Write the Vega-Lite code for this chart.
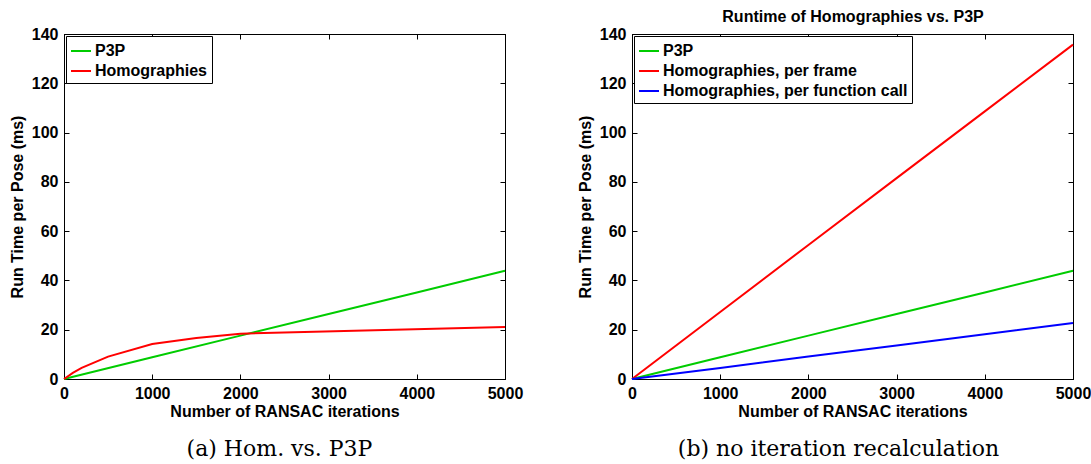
{
  "$schema": "https://vega.github.io/schema/vega-lite/v6.json",
  "padding": {"left": 8, "top": 8, "right": 5, "bottom": 5},
  "background": "white",
  "bounds": "flush",
  "spacing": 127,
  "resolve": {"scale": {"color": "independent"}},
  "config": {
    "font": "Liberation Sans",
    "view": {"stroke": "black", "strokeWidth": 1},
    "axis": {
      "grid": false,
      "domainColor": "black",
      "tickColor": "black",
      "tickSize": -5,
      "labelFont": "Liberation Sans",
      "labelFontWeight": "bold",
      "labelFontSize": 16,
      "labelColor": "black",
      "labelPadding": 11,
      "labelFlush": false,
      "labelOverlap": false,
      "format": "d",
      "titleFont": "Liberation Sans",
      "titleFontWeight": "bold",
      "titleFontSize": 16,
      "titleColor": "black"
    },
    "legend": {
      "orient": "top-left",
      "offset": 2,
      "strokeColor": "black",
      "fillColor": "white",
      "padding": 4,
      "cornerRadius": 0,
      "symbolType": "stroke",
      "symbolSize": 400,
      "symbolStrokeWidth": 2,
      "labelFont": "Liberation Sans",
      "labelFontWeight": "bold",
      "labelFontSize": 16,
      "labelColor": "black",
      "labelOffset": 3,
      "labelLimit": 400,
      "rowPadding": 1
    },
    "title": {
      "font": "DejaVu Serif",
      "fontSize": 22,
      "fontWeight": "normal",
      "color": "black",
      "orient": "bottom",
      "anchor": "middle",
      "offset": 20
    },
    "line": {"strokeWidth": 2}
  },
  "datasets": {
    "left": [
      {"iterations": 0, "time": 0, "method": "P3P"},
      {"iterations": 1000, "time": 8.8, "method": "P3P"},
      {"iterations": 2000, "time": 17.6, "method": "P3P"},
      {"iterations": 3000, "time": 26.4, "method": "P3P"},
      {"iterations": 4000, "time": 35.1, "method": "P3P"},
      {"iterations": 5000, "time": 43.9, "method": "P3P"},
      {"iterations": 0, "time": 0, "method": "Homographies"},
      {"iterations": 100, "time": 2.5, "method": "Homographies"},
      {"iterations": 200, "time": 4.5, "method": "Homographies"},
      {"iterations": 500, "time": 9.1, "method": "Homographies"},
      {"iterations": 1000, "time": 14.2, "method": "Homographies"},
      {"iterations": 1500, "time": 16.6, "method": "Homographies"},
      {"iterations": 2000, "time": 18.4, "method": "Homographies"},
      {"iterations": 5000, "time": 21.1, "method": "Homographies"}
    ],
    "right": [
      {"iterations": 0, "time": 0, "method": "P3P"},
      {"iterations": 1000, "time": 8.8, "method": "P3P"},
      {"iterations": 2000, "time": 17.6, "method": "P3P"},
      {"iterations": 3000, "time": 26.4, "method": "P3P"},
      {"iterations": 4000, "time": 35.1, "method": "P3P"},
      {"iterations": 5000, "time": 43.9, "method": "P3P"},
      {"iterations": 0, "time": 0, "method": "Homographies, per frame"},
      {"iterations": 1000, "time": 27.2, "method": "Homographies, per frame"},
      {"iterations": 2000, "time": 54.4, "method": "Homographies, per frame"},
      {"iterations": 3000, "time": 81.5, "method": "Homographies, per frame"},
      {"iterations": 4000, "time": 108.6, "method": "Homographies, per frame"},
      {"iterations": 5000, "time": 135.7, "method": "Homographies, per frame"},
      {"iterations": 0, "time": 0, "method": "Homographies, per function call"},
      {"iterations": 1000, "time": 4.5, "method": "Homographies, per function call"},
      {"iterations": 2000, "time": 9.1, "method": "Homographies, per function call"},
      {"iterations": 3000, "time": 13.6, "method": "Homographies, per function call"},
      {"iterations": 4000, "time": 18.2, "method": "Homographies, per function call"},
      {"iterations": 5000, "time": 22.7, "method": "Homographies, per function call"}
    ]
  },
  "hconcat": [
    {
      "width": 441,
      "height": 345,
      "title": {"text": "(a) Hom. vs. P3P", "dx": -5},
      "data": {"name": "left"},
      "layer": [
        {
          "mark": {"type": "line", "strokeWidth": 2},
          "encoding": {
            "x": {"field": "iterations", "type": "quantitative",
                  "scale": {"domain": [0, 5000], "nice": false},
                  "axis": {"orient": "bottom", "values": [0, 1000, 2000, 3000, 4000, 5000], "title": "Number of RANSAC iterations", "titlePadding": 2}},
            "y": {"field": "time", "type": "quantitative",
                  "scale": {"domain": [0, 140], "nice": false},
                  "axis": {"orient": "left", "values": [0, 20, 40, 60, 80, 100, 120, 140], "title": "Run Time per Pose (ms)", "titlePadding": 6}},
            "color": {"field": "method", "type": "nominal",
                      "scale": {"domain": ["P3P", "Homographies"], "range": ["#00cc00", "#ff0000"]},
                      "legend": {"title": null}},
            "order": {"field": "iterations", "type": "quantitative"}
          }
        },
        {
          "mark": {"type": "line", "opacity": 0},
          "encoding": {
            "x": {"field": "iterations", "type": "quantitative",
                  "axis": {"orient": "top", "values": [0, 1000, 2000, 3000, 4000, 5000], "labels": false, "title": null}},
            "y": {"field": "time", "type": "quantitative",
                  "axis": {"orient": "right", "values": [0, 20, 40, 60, 80, 100, 120, 140], "labels": false, "title": null}},
            "detail": {"field": "method"}
          }
        }
      ],
      "resolve": {"axis": {"x": "independent", "y": "independent"}}
    },
    {
      "width": 441,
      "height": 345,
      "title": {"text": "(b) no iteration recalculation", "dx": -14},
      "data": {"name": "right"},
      "layer": [
        {
          "mark": {"type": "line", "strokeWidth": 2},
          "encoding": {
            "x": {"field": "iterations", "type": "quantitative",
                  "scale": {"domain": [0, 5000], "nice": false},
                  "axis": {"orient": "bottom", "values": [0, 1000, 2000, 3000, 4000, 5000], "title": "Number of RANSAC iterations", "titlePadding": 2}},
            "y": {"field": "time", "type": "quantitative",
                  "scale": {"domain": [0, 140], "nice": false},
                  "axis": {"orient": "left", "values": [0, 20, 40, 60, 80, 100, 120, 140], "title": "Run Time per Pose (ms)", "titlePadding": 6}},
            "color": {"field": "method", "type": "nominal",
                      "scale": {"domain": ["P3P", "Homographies, per frame", "Homographies, per function call"], "range": ["#00cc00", "#ff0000", "#0000ff"]},
                      "legend": {"title": null}},
            "order": {"field": "iterations", "type": "quantitative"}
          }
        },
        {
          "mark": {"type": "line", "opacity": 0},
          "encoding": {
            "x": {"field": "iterations", "type": "quantitative",
                  "axis": {"orient": "top", "values": [0, 1000, 2000, 3000, 4000, 5000], "labels": false, "title": "Runtime of Homographies vs. P3P", "titlePadding": 9}},
            "y": {"field": "time", "type": "quantitative",
                  "axis": {"orient": "right", "values": [0, 20, 40, 60, 80, 100, 120, 140], "labels": false, "title": null}},
            "detail": {"field": "method"}
          }
        }
      ],
      "resolve": {"axis": {"x": "independent", "y": "independent"}}
    }
  ]
}
